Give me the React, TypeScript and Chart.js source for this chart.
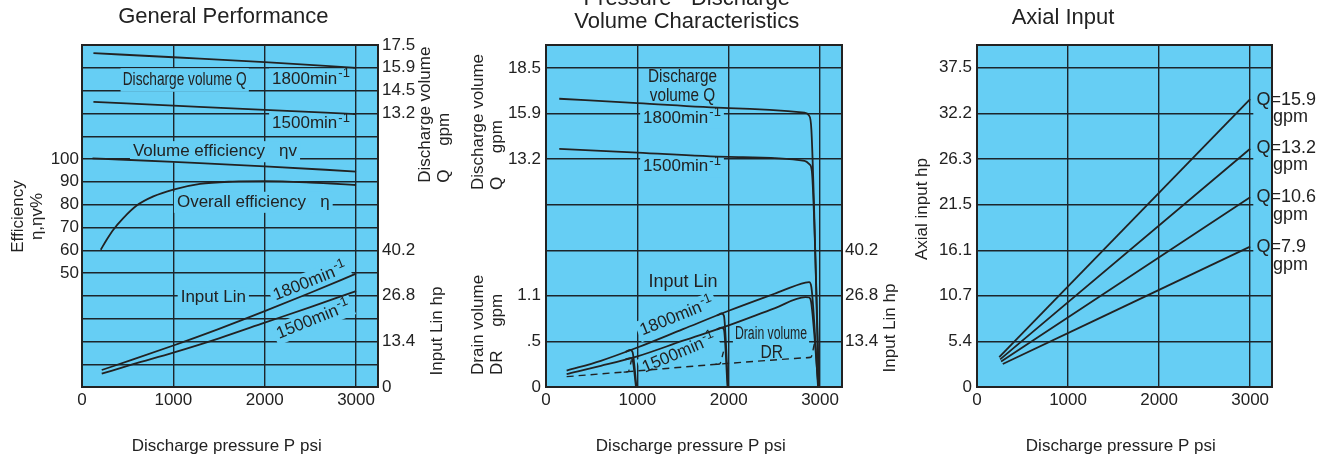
import React, { useEffect, useRef } from 'react';
import { Chart, registerables } from 'chart.js';

Chart.register(...registerables);

type Pt = [number, number];

const FONT = "'Liberation Sans', Arial, Helvetica, sans-serif";
const CYAN = '#66CEF4';
const INK = '#222222';
const GRID = '#1c252b';

// ---------- shared x axis ----------
const pressureTicks = [0, 1000, 2000, 3000];
const pressureTickLabels = ['0', '1000', '2000', '3000'];
const pressureMax = 3240;

// ---------- Panel 1: General Performance ----------
const gpEffRange = [0, 150];
const gpEffGrid = [0, 10, 20, 30, 40, 50, 60, 70, 80, 90, 100, 110, 120, 130, 140, 150];
const gpEffShown = [50, 60, 70, 80, 90, 100];
const gpQRange = [-2.644, 17.171];
const gpQTickValues = [13.21, 14.53, 15.85, 17.171];
const gpQTickLabels = ['13.2', '14.5', '15.9', '17.5'];
const gpHpRange = [0, 100.5];
const gpHpTickValues = [0, 13.4, 26.8, 40.2];
const gpHpTickLabels = ['0', '13.4', '26.8', '40.2'];

const gpQ1800: Pt[] = [[125, 16.7], [1000, 16.46], [2000, 16.18], [3000, 15.85]];
const gpQ1500: Pt[] = [[125, 13.88], [1000, 13.66], [2000, 13.41], [3000, 13.17]];
const gpVolEff: Pt[] = [[115, 100.3], [1000, 98.7], [2000, 96.8], [3000, 94.5]];
const gpOverallEff: Pt[] = [
  [205, 60.2], [270, 64.6], [343, 69], [452, 74.1], [599, 79.6], [781, 83.6],
  [1000, 86.6], [1292, 89.1], [1650, 90.1], [2000, 90.3], [2500, 89.7], [3000, 88.6],
];
const gpIn1800: Pt[] = [[216, 5.0], [560, 8.1], [1000, 12.2], [1500, 17.1], [2000, 22.3], [2500, 27.7], [3000, 33.3]];
const gpIn1500: Pt[] = [[216, 3.9], [560, 6.7], [1000, 10.1], [1500, 14.3], [2000, 18.9], [2500, 23.5], [3000, 28.2]];

// ---------- Panel 2: Pressure - Discharge Volume Characteristics ----------
const pdQRange = [0, 19.815];
const pdQTickValues = [13.21, 15.85, 18.49];
const pdQTickLabels = ['13.2', '15.9', '18.5'];
const pdDrRange = [0, 3.963];
const pdDrTickValues = [0, 0.528, 1.057];
const pdDrTickLabels = ['0', '.5', '1.1'];
const pdHpRange = [0, 100.5];
const pdHpGrid = [0, 13.4, 26.8, 40.2, 53.6, 67, 80.4, 93.8];
const pdHpGridLabels = ['', '13.4', '26.8', '40.2', '', '', '', ''];

const pdQ1800: Pt[] = [[145, 16.7], [1000, 16.45], [2000, 16.16], [2830, 15.9], [2880, 15.72], [2905, 14.9], [2985, 0]];
const pdQ1500: Pt[] = [[145, 13.8], [1000, 13.58], [2000, 13.33], [2830, 13.1], [2885, 12.9], [2910, 12.5], [2990, 0]];
const pdIn1800: Pt[] = [
  [226, 4.8], [600, 7.7], [1000, 11.6], [1500, 17.0], [2000, 22.4], [2500, 27.4],
  [2840, 30.7], [2880, 30.8], [2905, 29.3], [2978, 0],
];
const pdIn1500: Pt[] = [
  [226, 3.8], [600, 6.2], [1000, 9.0], [1500, 13.6], [2000, 18.1], [2500, 23.1],
  [2840, 26.4], [2880, 26.3], [2902, 25.0], [2982, 0],
];
const pdIn1800Cut1000: Pt[] = [[870, 10.33], [925, 10.87], [948, 10.2], [990, 0]];
const pdIn1500Cut1000: Pt[] = [[870, 8.09], [925, 8.47], [948, 7.9], [985, 0]];
const pdIn1800Cut2000: Pt[] = [[1870, 21.0], [1925, 21.6], [1948, 20.9], [1992, 0]];
const pdIn1500Cut2000: Pt[] = [[1870, 16.93], [1925, 17.43], [1948, 16.8], [1987, 0]];
const pdDrain: Pt[] = [[226, 0.12], [900, 0.178], [1900, 0.266], [2900, 0.344]];
const pdDrainRise1000: Pt[] = [[850, 0.172], [900, 0.178], [935, 0.31]];
const pdDrainRise2000: Pt[] = [[1850, 0.262], [1900, 0.266], [1943, 0.41]];
const pdDrainRise3000: Pt[] = [[2850, 0.34], [2900, 0.344], [2937, 0.5]];

// ---------- Panel 3: Axial Input ----------
const aiHpRange = [0, 40.2];
const aiTickValues = [0, 5.36, 10.72, 16.08, 21.44, 26.8, 32.16, 37.52];
const aiTickLabels = ['0', '5.4', '10.7', '16.1', '21.5', '26.3', '32.2', '37.5'];
const aiQ159: Pt[] = [[244, 3.5], [3000, 33.85]];
const aiQ132: Pt[] = [[254, 3.25], [3000, 28.0]];
const aiQ106: Pt[] = [[265, 3.0], [3000, 22.3]];
const aiQ79: Pt[] = [[283, 2.7], [3000, 16.5]];

// ---------- helpers ----------
type Txt = {
  text: string; sup?: string; x: number; y: number; size?: number;
  rot?: number; sx?: number; bg?: boolean; align?: 'left' | 'center';
};
type Box = { x0: number; y0: number; x1: number; y1: number };

function drawTxt(ctx: CanvasRenderingContext2D, t: Txt, ox: number, oy: number) {
  const size = t.size ?? 17;
  const supSize = Math.round(size * 0.76);
  ctx.save();
  ctx.translate(ox + t.x, oy + t.y);
  if (t.rot) ctx.rotate((t.rot * Math.PI) / 180);
  if (t.sx) ctx.scale(t.sx, 1);
  ctx.font = `${size}px ${FONT}`;
  const w1 = ctx.measureText(t.text).width;
  let w2 = 0;
  if (t.sup) {
    ctx.font = `${supSize}px ${FONT}`;
    w2 = ctx.measureText(t.sup).width + 1;
  }
  const w = w1 + w2;
  const x0 = t.align === 'left' ? 0 : -w / 2;
  if (t.bg) {
    ctx.fillStyle = CYAN;
    ctx.fillRect(x0 - 3, -size * 0.62, w + 6, size * 1.24);
  }
  ctx.fillStyle = INK;
  ctx.textBaseline = 'middle';
  ctx.textAlign = 'left';
  ctx.font = `${size}px ${FONT}`;
  ctx.fillText(t.text, x0, 0);
  if (t.sup) {
    ctx.font = `${supSize}px ${FONT}`;
    ctx.fillText(t.sup, x0 + w1 + 1, -size * 0.3);
  }
  ctx.restore();
}

function decor(inner: Txt[], outer: Txt[], boxes: Box[] = []) {
  return {
    id: 'decor',
    beforeDraw(chart: any) {
      const { ctx, chartArea: c } = chart;
      ctx.save();
      ctx.fillStyle = CYAN;
      ctx.fillRect(c.left, c.top, c.right - c.left, c.bottom - c.top);
      ctx.restore();
    },
    beforeDatasetsDraw(chart: any) {
      const { ctx, chartArea: c } = chart;
      ctx.save();
      ctx.fillStyle = CYAN;
      boxes.forEach((b) => ctx.fillRect(c.left + b.x0, c.top + b.y0, b.x1 - b.x0, b.y1 - b.y0));
      ctx.strokeStyle = INK;
      ctx.lineWidth = 2;
      ctx.strokeRect(c.left, c.top, c.right - c.left, c.bottom - c.top);
      ctx.restore();
      inner.forEach((t) => drawTxt(ctx, t, c.left, c.top));
    },
    afterDraw(chart: any) {
      outer.forEach((t) => drawTxt(chart.ctx, t, 0, 0));
    },
  };
}

const tickFont = { family: FONT, size: 17 };

function pressureAxis(height: number) {
  return {
    type: 'linear', position: 'bottom', min: 0, max: pressureMax,
    afterBuildTicks: (a: any) => { a.ticks = pressureTicks.map((v) => ({ value: v })); },
    ticks: {
      autoSkip: false, maxRotation: 0, padding: 3, color: INK, font: tickFont,
      callback: (_v: number, i: number) => pressureTickLabels[i],
    },
    grid: { color: GRID, lineWidth: 1.4, drawTicks: false },
    border: { display: false },
    afterFit: (a: any) => { a.height = height; },
  };
}

function labelAxis(
  position: 'left' | 'right',
  groups: { values: number[]; labels: string[]; range: number[] }[],
  width: number,
  pad: number,
) {
  const labels = groups.flatMap((g) => g.labels);
  return {
    type: 'linear', position, min: 0, max: 1,
    grid: { display: false, drawTicks: false },
    border: { display: false },
    afterBuildTicks: (a: any) => {
      a.ticks = groups.flatMap((g) =>
        g.values.map((v) => ({ value: (v - g.range[0]) / (g.range[1] - g.range[0]) })),
      );
    },
    ticks: {
      autoSkip: false, padding: pad, color: INK, font: tickFont,
      callback: (_v: number, i: number) => labels[i],
    },
    afterFit: (a: any) => { a.width = width; },
  };
}

function line(data: Pt[], yAxisID: string, extra: any = {}) {
  return {
    data: data.map(([x, y]) => ({ x, y })),
    xAxisID: 'x', yAxisID,
    borderColor: INK, borderWidth: 1.8, pointRadius: 0, fill: false,
    cubicInterpolationMode: 'monotone',
    ...extra,
  };
}

const baseOptions = {
  animation: false, responsive: false, devicePixelRatio: 1, events: [],
  plugins: { legend: { display: false }, tooltip: { enabled: false }, title: { display: false } },
};

// ---------- chart configs ----------
function makeP1(): any {
  return {
    type: 'line',
    data: {
      datasets: [
        line(gpQ1800, 'yQ'), line(gpQ1500, 'yQ'),
        line(gpVolEff, 'yEff'), line(gpOverallEff, 'yEff'),
        line(gpIn1800, 'yHp'), line(gpIn1500, 'yHp'),
      ],
    },
    options: {
      ...baseOptions,
      layout: { padding: { top: 45, left: 0, right: 0, bottom: 0 } },
      scales: {
        x: pressureAxis(74),
        yEff: {
          type: 'linear', position: 'left', min: gpEffRange[0], max: gpEffRange[1],
          afterBuildTicks: (a: any) => { a.ticks = gpEffGrid.map((v) => ({ value: v })); },
          ticks: {
            autoSkip: false, padding: 3, color: INK, font: tickFont,
            callback: (v: number) => (gpEffShown.includes(v) ? String(v) : ''),
          },
          grid: { color: GRID, lineWidth: 1.4, drawTicks: false },
          border: { display: false },
          afterFit: (a: any) => { a.width = 82; },
        },
        yQ: { type: 'linear', display: false, min: gpQRange[0], max: gpQRange[1] },
        yHp: { type: 'linear', display: false, min: gpHpRange[0], max: gpHpRange[1] },
        yR: labelAxis('right', [
          { values: gpQTickValues, labels: gpQTickLabels, range: gpQRange },
          { values: gpHpTickValues, labels: gpHpTickLabels, range: gpHpRange },
        ], 87, 4),
      },
    },
    plugins: [decor(
      [
        { text: 'Discharge volume Q', x: 102.7, y: 35, size: 19, sx: 0.72, bg: true },
        { text: '1800min', sup: '-1', x: 229, y: 34, bg: true },
        { text: '1500min', sup: '-1', x: 229, y: 78.3, bg: true },
        { text: 'Volume efficiency   ηv', x: 133, y: 106.7, bg: true },
        { text: 'Overall efficiency   η', x: 171.3, y: 157.3, bg: true },
        { text: 'Input Lin', x: 131.3, y: 252.7, bg: true },
        { text: '1800min', sup: '-1', x: 228, y: 236.7, rot: -22, bg: true },
        { text: '1500min', sup: '-1', x: 231.3, y: 275, rot: -22, bg: true },
      ],
      [
        { text: 'General Performance', x: 223.3, y: 17.3, size: 22 },
        { text: 'Efficiency', x: 18.5, y: 216.5, rot: -90 },
        { text: 'η,ηv%', x: 37.5, y: 216.5, rot: -90 },
        { text: 'Discharge volume', x: 425, y: 182.7, rot: -90, align: 'left' },
        { text: 'Q     gpm', x: 444, y: 182.7, rot: -90, align: 'left' },
        { text: 'Input Lin hp', x: 437.5, y: 331, rot: -90 },
        { text: 'Discharge pressure P psi', x: 226.7, y: 446 },
      ],
    )],
  };
}

function makeP2(): any {
  const dashed = { borderDash: [7, 5], borderWidth: 1.4 };
  return {
    type: 'line',
    data: {
      datasets: [
        line(pdQ1800, 'yQ'), line(pdQ1500, 'yQ'),
        line(pdIn1800, 'yHp'), line(pdIn1500, 'yHp'),
        line(pdIn1800Cut1000, 'yHp'), line(pdIn1500Cut1000, 'yHp'),
        line(pdIn1800Cut2000, 'yHp'), line(pdIn1500Cut2000, 'yHp'),
        line(pdDrain, 'yDr', dashed),
        line(pdDrainRise1000, 'yDr', dashed),
        line(pdDrainRise2000, 'yDr', dashed),
        line(pdDrainRise3000, 'yDr', dashed),
      ],
    },
    options: {
      ...baseOptions,
      layout: { padding: { top: 45, left: 0, right: 0, bottom: 0 } },
      scales: {
        x: pressureAxis(74),
        yL: labelAxis('left', [
          { values: pdQTickValues, labels: pdQTickLabels, range: pdQRange },
          { values: pdDrTickValues, labels: pdDrTickLabels, range: pdDrRange },
        ], 81, 5),
        yHp: {
          type: 'linear', position: 'right', min: pdHpRange[0], max: pdHpRange[1],
          afterBuildTicks: (a: any) => { a.ticks = pdHpGrid.map((v) => ({ value: v })); },
          ticks: {
            autoSkip: false, padding: 3, color: INK, font: tickFont,
            callback: (_v: number, i: number) => pdHpGridLabels[i],
          },
          grid: { color: GRID, lineWidth: 1.4, drawTicks: false },
          border: { display: false },
          afterFit: (a: any) => { a.width = 63; },
        },
        yQ: { type: 'linear', display: false, min: pdQRange[0], max: pdQRange[1] },
        yDr: { type: 'linear', display: false, min: pdDrRange[0], max: pdDrRange[1] },
      },
    },
    plugins: [decor(
      [
        { text: 'Discharge', x: 136.5, y: 31.7, size: 18, sx: 0.85 },
        { text: 'volume Q', x: 136.5, y: 50.7, size: 18, sx: 0.85 },
        { text: '1800min', sup: '-1', x: 136, y: 73, bg: true },
        { text: '1500min', sup: '-1', x: 136, y: 121.7, bg: true },
        { text: 'Input Lin', x: 137, y: 236.7, size: 18 },
        { text: '1800min', sup: '-1', x: 130.7, y: 271.7, rot: -22, bg: true },
        { text: '1500min', sup: '-1', x: 133, y: 308.3, rot: -23, bg: true },
        { text: 'Drain volume', x: 225, y: 289.3, size: 18, sx: 0.68, bg: true },
        { text: 'DR', x: 225.7, y: 307.7, size: 19, sx: 0.82 },
      ],
      [
        { text: 'Pressure - Discharge', x: 221.7, y: -1.3, size: 22 },
        { text: 'Volume Characteristics', x: 221.7, y: 21.7, size: 22 },
        { text: 'Discharge volume', x: 13, y: 190, rot: -90, align: 'left' },
        { text: 'Q     gpm', x: 32, y: 190, rot: -90, align: 'left' },
        { text: 'Drain volume', x: 13, y: 375, rot: -90, align: 'left' },
        { text: 'DR     gpm', x: 32, y: 375, rot: -90, align: 'left' },
        { text: 'Input Lin hp', x: 425, y: 328, rot: -90 },
        { text: 'Discharge pressure P psi', x: 225.8, y: 446 },
      ],
    )],
  };
}

function makeP3(): any {
  return {
    type: 'line',
    data: {
      datasets: [
        line(aiQ159, 'yAx'), line(aiQ132, 'yAx'), line(aiQ106, 'yAx'), line(aiQ79, 'yAx'),
      ],
    },
    options: {
      ...baseOptions,
      layout: { padding: { top: 45, left: 0, right: 57, bottom: 0 } },
      scales: {
        x: pressureAxis(74),
        yAx: {
          type: 'linear', position: 'left', min: aiHpRange[0], max: aiHpRange[1],
          afterBuildTicks: (a: any) => { a.ticks = aiTickValues.map((v) => ({ value: v })); },
          ticks: {
            autoSkip: false, padding: 5, color: INK, font: tickFont,
            callback: (_v: number, i: number) => aiTickLabels[i],
          },
          grid: { color: GRID, lineWidth: 1.4, drawTicks: false },
          border: { display: false },
          afterFit: (a: any) => { a.width = 72; },
        },
      },
    },
    plugins: [decor(
      [
        { text: 'Q=15.9', x: 279.5, y: 55, size: 18, align: 'left' },
        { text: 'gpm', x: 296, y: 72, size: 18, align: 'left' },
        { text: 'Q=13.2', x: 279.5, y: 103.3, size: 18, align: 'left' },
        { text: 'gpm', x: 296, y: 120.5, size: 18, align: 'left' },
        { text: 'Q=10.6', x: 279.5, y: 151.7, size: 18, align: 'left' },
        { text: 'gpm', x: 296, y: 170, size: 18, align: 'left' },
        { text: 'Q=7.9', x: 279.5, y: 201.7, size: 18, align: 'left' },
        { text: 'gpm', x: 296, y: 220, size: 18, align: 'left' },
      ],
      [
        { text: 'Axial Input', x: 158, y: 18.3, size: 22 },
        { text: 'Axial input hp', x: 17.5, y: 209, rot: -90 },
        { text: 'Discharge pressure P psi', x: 215.8, y: 446 },
      ],
      [
        { x0: 276.3, y0: 44, x1: 295, y1: 82 },
        { x0: 276.3, y0: 92, x1: 295, y1: 130 },
        { x0: 276.3, y0: 141, x1: 295, y1: 180 },
        { x0: 276.3, y0: 191, x1: 295, y1: 230 },
      ],
    )],
  };
}

function Panel({ left, width, make }: { left: number; width: number; make: () => any }) {
  const ref = useRef<HTMLCanvasElement>(null);
  useEffect(() => {
    if (!ref.current) return;
    const chart = new Chart(ref.current, make());
    return () => chart.destroy();
  }, []);
  return (
    <canvas
      ref={ref}
      width={width}
      height={461}
      style={{ position: 'absolute', left, top: 0, width, height: 461, display: 'block' }}
    />
  );
}

export default function App() {
  return (
    <div style={{ position: 'absolute', left: 0, top: 0, width: 1329, height: 461, background: '#ffffff', overflow: 'hidden' }}>
      <Panel left={0} width={465} make={makeP1} />
      <Panel left={465} width={440} make={makeP2} />
      <Panel left={905} width={424} make={makeP3} />
    </div>
  );
}
